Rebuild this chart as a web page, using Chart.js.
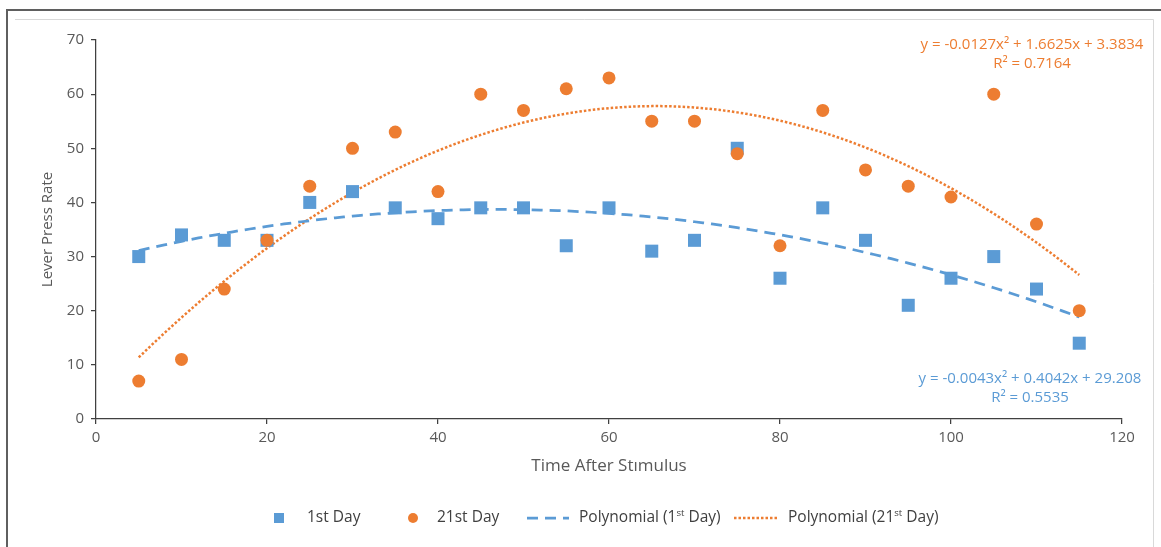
<!DOCTYPE html>
<html>
<head>
<meta charset="utf-8">
<title>Lever Press Rate</title>
<script src="https://cdn.jsdelivr.net/npm/chart.js@4.4.1/dist/chart.umd.min.js"></script>
<style>
  html, body { margin: 0; padding: 0; background: #ffffff; }
  #wrap { position: relative; width: 1161px; height: 547px; }
  canvas { display: block; }
</style>
</head>
<body>
<div id="wrap"><canvas id="c" width="1161" height="547"></canvas></div>
<script>
// Minutes after the stimulus
const times = [5, 10, 15, 20, 25, 30, 35, 40, 45, 50, 55, 60, 65, 70, 75, 80, 85, 90, 95, 100, 105, 110, 115];
// Lever presses per interval, first day
const day1 = [30, 34, 33, 33, 40, 42, 39, 37, 39, 39, 32, 39, 31, 33, 50, 26, 39, 33, 21, 26, 30, 24, 14];
// Lever presses per interval, 21st day
const day21 = [7, 11, 24, 33, 43, 50, 53, 42, 60, 57, 61, 63, 55, 55, 49, 32, 57, 46, 43, 41, 60, 36, 20];
// Second-order polynomial trend coefficients [x², x, constant] and R²
const fit1 = [-0.0043, 0.4042, 29.208];
const fit21 = [-0.0127, 1.6625, 3.3834];
const r2Day1 = 0.5535;
const r2Day21 = 0.7164;
const xTicks = [0, 20, 40, 60, 80, 100, 120];
const yTicks = [0, 10, 20, 30, 40, 50, 60, 70];

const BLUE = '#5B9BD5';
const ORANGE = '#ED7D31';
const TEXT = '#595959';
const AXIS = '#404040';
const FONT = '"Open Sans", "Liberation Sans", sans-serif';

const points = (vals) => times.map((t, i) => ({ x: t, y: vals[i] }));
const trend = (c) => {
  const out = [];
  const x0 = times[0], x1 = times[times.length - 1];
  for (let x = x0; x <= x1; x += 1) out.push({ x, y: c[0] * x * x + c[1] * x + c[2] });
  return out;
};

// Page frame behind the chart
const framePlugin = {
  id: 'frame',
  beforeDraw(chart) {
    const ctx = chart.ctx;
    ctx.save();
    ctx.fillStyle = '#ffffff';
    ctx.fillRect(0, 0, chart.width, chart.height);
    ctx.strokeStyle = '#d9d9d9';
    ctx.lineWidth = 1;
    ctx.beginPath();
    ctx.moveTo(15, 19.5); ctx.lineTo(1153.5, 19.5); ctx.lineTo(1153.5, chart.height);
    ctx.stroke();
    ctx.strokeStyle = '#5f5f5f';
    ctx.lineWidth = 2;
    ctx.beginPath();
    ctx.moveTo(7, chart.height); ctx.lineTo(7, 10); ctx.lineTo(chart.width, 10);
    ctx.stroke();
    ctx.restore();
  }
};

// Trendline equations
const fmtEq = (c) => `y = ${c[0]}x² + ${c[1]}x + ${c[2]}`;
const equationPlugin = {
  id: 'equations',
  afterDatasetsDraw(chart) {
    const ctx = chart.ctx;
    ctx.save();
    ctx.font = `15px ${FONT}`;
    ctx.textAlign = 'center';
    ctx.textBaseline = 'middle';
    ctx.fillStyle = ORANGE;
    ctx.fillText(fmtEq(fit21), 1032, 45);
    ctx.fillText(`R² = ${r2Day21}`, 1032, 64);
    ctx.fillStyle = BLUE;
    ctx.fillText(fmtEq(fit1), 1030, 379);
    ctx.fillText(`R² = ${r2Day1}`, 1030, 398);
    ctx.restore();
  }
};

// Legend with superscript ordinals
function drawRich(ctx, text, x, y, sup) {
  const size = 15.5;
  if (!sup) {
    ctx.font = `${size}px ${FONT}`;
    ctx.fillText(text, x, y);
    return;
  }
  const parts = text.split(/(\d)(st)/);
  parts.forEach((p, i) => {
    if (i % 3 === 2) {
      ctx.font = `${size * 0.62}px ${FONT}`;
      ctx.fillText(p, x, y - 5);
    } else {
      ctx.font = `${size}px ${FONT}`;
      ctx.fillText(p, x, y);
    }
    x += ctx.measureText(p).width;
  });
}
const legendPlugin = {
  id: 'richLegend',
  afterDraw(chart) {
    const ctx = chart.ctx;
    const y = 518;
    const slots = [
      { cx: 279, tx: 307 },
      { cx: 413, tx: 437 },
      { from: 527, to: 569, tx: 579 },
      { from: 734, to: 777, tx: 788 }
    ];
    ctx.save();
    ctx.textBaseline = 'middle';
    ctx.textAlign = 'left';
    chart.data.datasets.forEach((ds, i) => {
      const s = slots[i];
      if (ds.showLine) {
        ctx.strokeStyle = ds.borderColor;
        ctx.lineWidth = ds.borderWidth;
        ctx.setLineDash(ds.borderDash || []);
        ctx.beginPath();
        ctx.moveTo(s.from, y); ctx.lineTo(s.to, y);
        ctx.stroke();
        ctx.setLineDash([]);
      } else {
        ctx.fillStyle = ds.backgroundColor;
        if (ds.pointStyle === 'rect') {
          ctx.fillRect(s.cx - 5, y - 5, 10, 10);
        } else {
          ctx.beginPath(); ctx.arc(s.cx, y, 5, 0, Math.PI * 2); ctx.fill();
        }
      }
      ctx.fillStyle = '#404040';
      drawRich(ctx, ds.label, s.tx, y, ds.showLine);
    });
    ctx.restore();
  }
};

new Chart(document.getElementById('c'), {
  type: 'scatter',
  data: {
    datasets: [
      { label: '1st Day', data: points(day1), pointStyle: 'rect', pointRadius: 9.2, pointHoverRadius: 9.2,
        backgroundColor: BLUE, borderColor: BLUE, borderWidth: 0, showLine: false, order: 1 },
      { label: '21st Day', data: points(day21), pointStyle: 'circle', pointRadius: 6.5, pointHoverRadius: 6.5,
        backgroundColor: ORANGE, borderColor: ORANGE, borderWidth: 0, showLine: false, order: 0 },
      { label: 'Polynomial (1st Day)', data: trend(fit1), showLine: true, pointRadius: 0,
        borderColor: BLUE, borderWidth: 2.75, borderDash: [11, 7], fill: false, order: 2 },
      { label: 'Polynomial (21st Day)', data: trend(fit21), showLine: true, pointRadius: 0,
        borderColor: ORANGE, borderWidth: 2.5, borderDash: [2.5, 2], fill: false, order: 2 }
    ]
  },
  options: {
    responsive: false,
    animation: false,
    events: [],
    layout: { padding: { left: 39, right: 39, top: 40, bottom: 71 } },
    plugins: { legend: { display: false }, tooltip: { enabled: false } },
    scales: {
      x: {
        type: 'linear', min: 0, max: 120,
        afterFit(s) { s.height = 57; },
        afterBuildTicks(s) { s.ticks = xTicks.map(v => ({ value: v })); },
        border: { color: AXIS, width: 1.25 },
        grid: { drawOnChartArea: false, drawTicks: true, tickLength: 5, color: AXIS, lineWidth: 1.25 },
        ticks: { color: TEXT, font: { family: FONT, size: 15 }, padding: 5 },
        title: { display: true, text: 'Time After Stımulus', color: TEXT, font: { family: FONT, size: 17 }, padding: 0 }
      },
      y: {
        type: 'linear', min: 0, max: 70,
        afterFit(s) { s.width = 57; },
        afterBuildTicks(s) { s.ticks = yTicks.map(v => ({ value: v })); },
        border: { color: AXIS, width: 1.25 },
        grid: { drawOnChartArea: false, drawTicks: true, tickLength: 5, color: AXIS, lineWidth: 1.25 },
        ticks: { color: TEXT, font: { family: FONT, size: 15 }, padding: 7 },
        title: { display: true, text: 'Lever Press Rate', color: TEXT, font: { family: FONT, size: 15 }, padding: 0 }
      }
    }
  },
  plugins: [framePlugin, equationPlugin, legendPlugin]
});
</script>
</body>
</html>
